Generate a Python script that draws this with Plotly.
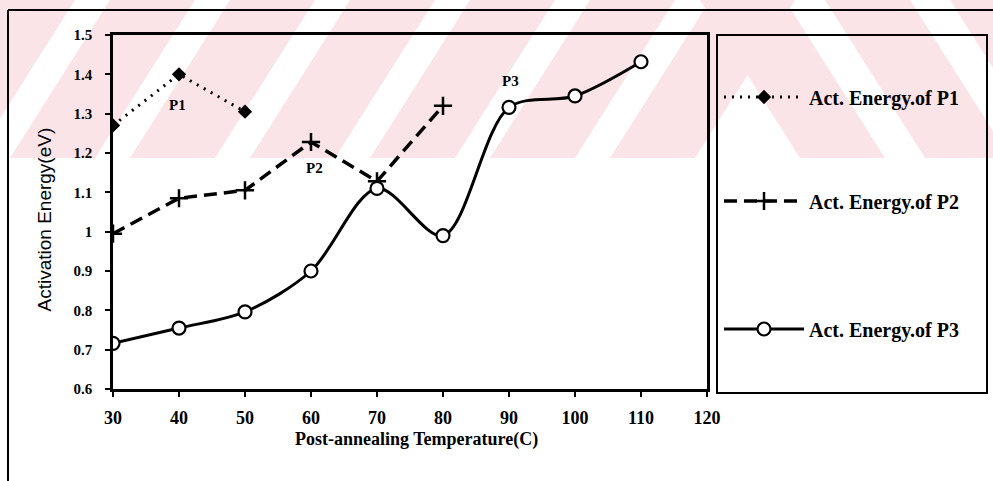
import plotly.graph_objects as go

# ---------------- data ----------------
temps_p1 = [30, 40, 50]
energy_p1 = [1.27, 1.40, 1.305]

temps_p2 = [30, 40, 50, 60, 70, 80]
energy_p2 = [0.995, 1.085, 1.105, 1.228, 1.128, 1.32]

temps_p3 = [30, 40, 50, 60, 70, 80, 90, 100, 110]
energy_p3 = [0.716, 0.755, 0.796, 0.90, 1.11, 0.99, 1.316, 1.345, 1.432]

x_ticks = [30, 40, 50, 60, 70, 80, 90, 100, 110, 120]
y_ticks = [0.6, 0.7, 0.8, 0.9, 1.0, 1.1, 1.2, 1.3, 1.4, 1.5]
y_ticktext = ["0.6", "0.7", "0.8", "0.9", "1", "1.1", "1.2", "1.3", "1.4", "1.5"]

series_names = ["Act. Energy.of P1", "Act. Energy.of P2", "Act. Energy.of P3"]
peak_labels = ["P1", "P2", "P3"]
peak_label_pos = [(39.8, 1.322), (60.6, 1.162), (90.2, 1.383)]

# ---------------- layout geometry (pixels) ----------------
W, H = 993, 481
L, R, T, B = 113, 707, 35, 389   # plot area in pixels


def px(X):
    return (X - L) / (R - L)


def py(Y):
    return (B - Y) / (B - T)


SERIF = "Liberation Serif"
SANS = "Liberation Sans"

fig = go.Figure()

fig.add_trace(go.Scatter(
    x=temps_p1, y=energy_p1, name=series_names[0], mode="lines+markers",
    line=dict(color="black", width=3, dash="2px,6px"),
    marker=dict(symbol="diamond", size=11, color="black"),
    legend="legend",
))
fig.add_trace(go.Scatter(
    x=temps_p2, y=energy_p2, name=series_names[1], mode="lines+markers",
    line=dict(color="black", width=3.5, dash="13px,7px"),
    marker=dict(symbol="cross-thin", size=13, color="black",
                line=dict(width=2.5, color="black")),
    legend="legend2",
))
fig.add_trace(go.Scatter(
    x=temps_p3, y=energy_p3, name=series_names[2], mode="lines+markers",
    line=dict(color="black", width=3, shape="spline", smoothing=0.9),
    marker=dict(symbol="circle", size=13, color="white",
                line=dict(width=2.2, color="black")),
    legend="legend3",
))

# ---------------- watermark (decorative pink stripes) ----------------
PINK = "rgb(251,228,231)"
shapes = []
band_bottom = 158
s = 100
w = 85
for b in range(-110, 640, 120):
    path = (f"M{px(b)},{py(band_bottom)} L{px(b + w)},{py(band_bottom)} "
            f"L{px(b + w + s)},{py(0)} L{px(b + s)},{py(0)} Z")
    shapes.append(dict(type="path", path=path, xref="paper", yref="paper",
                       fillcolor=PINK, line=dict(width=0), layer="below"))
for t in range(700, 1000, 125):
    path = (f"M{px(t)},{py(0)} L{px(t + w)},{py(0)} "
            f"L{px(t + w + s)},{py(band_bottom)} L{px(t + s)},{py(band_bottom)} Z")
    shapes.append(dict(type="path", path=path, xref="paper", yref="paper",
                       fillcolor=PINK, line=dict(width=0), layer="below"))

# outer frame (top and left)
shapes.append(dict(type="line", xref="paper", yref="paper",
                   x0=px(8), x1=px(995), y0=py(10), y1=py(10),
                   line=dict(color="black", width=2)))
shapes.append(dict(type="line", xref="paper", yref="paper",
                   x0=px(8), x1=px(8), y0=py(10), y1=py(483),
                   line=dict(color="black", width=2)))
# legend box
shapes.append(dict(type="rect", xref="paper", yref="paper",
                   x0=px(717), x1=px(987), y0=py(393), y1=py(35),
                   line=dict(color="black", width=2)))

annotations = []
for lab, (ax_, ay_) in zip(peak_labels, peak_label_pos):
    annotations.append(dict(x=ax_, y=ay_, xref="x", yref="y", text=f"<b>{lab}</b>",
                            showarrow=False, font=dict(family=SERIF, size=15, color="black")))
annotations.append(dict(x=px(31), y=py(220), xref="paper", yref="paper",
                        text="Activation Energy(eV)", textangle=-90, showarrow=False,
                        font=dict(family=SANS, size=19, color="black")))
annotations.append(dict(x=px(416), y=py(452), xref="paper", yref="paper",
                        text="<b>Post-annealing Temperature(C)</b>", showarrow=False,
                        font=dict(family=SERIF, size=18, color="black")))

leg_common = dict(xanchor="left", yanchor="middle", bgcolor="rgba(0,0,0,0)",
                  borderwidth=0, itemwidth=80,
                  font=dict(family=SERIF, size=20, color="black", weight="bold"))

fig.update_layout(
    width=W, height=H,
    margin=dict(l=L, r=W - R, t=T, b=H - B, pad=0),
    paper_bgcolor="white",
    plot_bgcolor="rgba(0,0,0,0)",
    showlegend=True,
    legend=dict(x=px(719), y=py(97), **leg_common),
    legend2=dict(x=px(719), y=py(201), **leg_common),
    legend3=dict(x=px(719), y=py(329), **leg_common),
    shapes=shapes,
    annotations=annotations,
    xaxis=dict(range=[30, 120], tickvals=x_ticks, ticktext=[str(v) for v in x_ticks],
               showgrid=False, zeroline=False, showline=True, linecolor="black",
               linewidth=2.5, mirror=True, ticks="outside", ticklen=5, tickwidth=1.5,
               tickcolor="black", ticklabelstandoff=6,
               tickfont=dict(family=SERIF, size=18, color="black", weight="bold")),
    yaxis=dict(range=[0.6, 1.5], tickvals=y_ticks, ticktext=y_ticktext,
               showgrid=False, zeroline=False, showline=True, linecolor="black",
               linewidth=2.5, mirror=True, ticks="outside", ticklen=5, tickwidth=1.5,
               tickcolor="black", ticklabelstandoff=10,
               tickfont=dict(family=SERIF, size=15, color="black", weight="bold")),
)

fig.write_html("out.html")
